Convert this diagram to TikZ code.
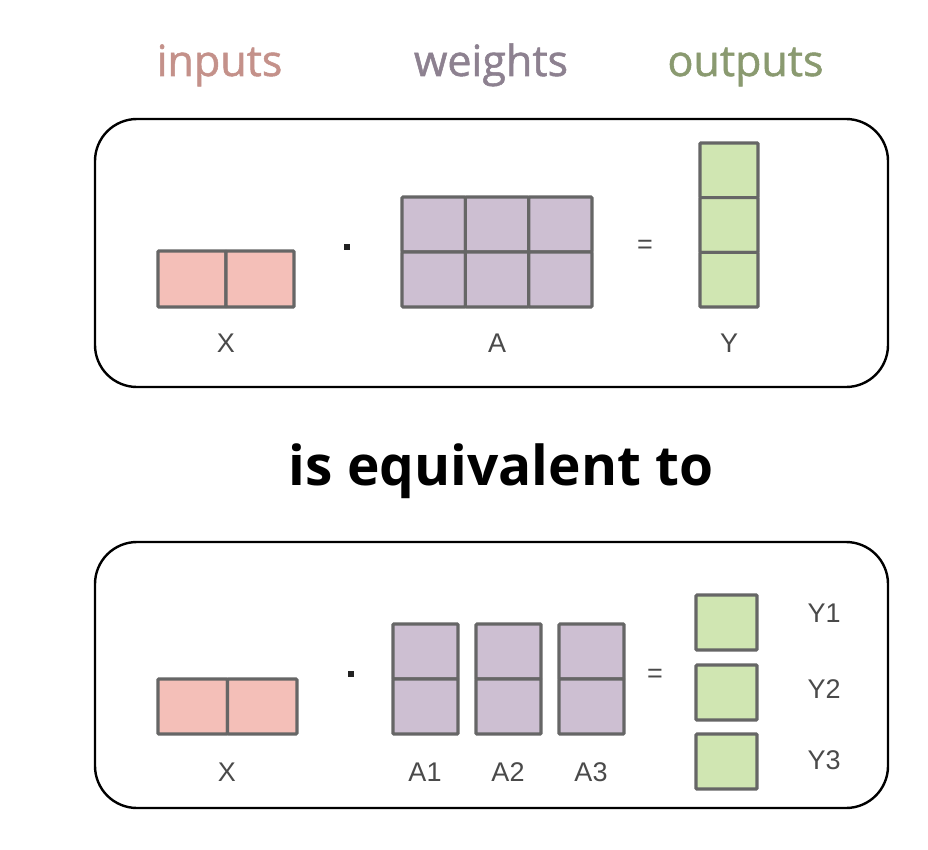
\documentclass[tikz,border=0pt]{standalone}
\usepackage{fontspec}
\setmainfont{Open Sans}
\newfontfamily\headfont[FakeBold=1.2]{Open Sans}
\newfontfamily\lblfont{Liberation Sans}
\begin{document}
\begin{tikzpicture}[x=1pt,y=-1pt,
  frame/.style={draw=black,line width=2.4pt,rounded corners=42pt},
  cell/.style={draw=cellline,line width=3.2pt,rounded corners=1pt,inner sep=0pt,outer sep=0pt,shape=rectangle},
  pinkc/.style={cell,fill=pinkfill},
  purpc/.style={cell,fill=purpfill},
  greenc/.style={cell,fill=greenfill},
  lbl/.style={font=\lblfont\fontsize{27}{27}\selectfont,text=lblgray,inner sep=0pt},
  head/.style={font=\headfont\fontsize{43}{44}\selectfont,inner sep=0pt,anchor=base},
  opdot/.style={fill=dotcol,minimum size=6pt,inner sep=0pt,shape=rectangle}
]
\definecolor{cellline}{HTML}{666666}
\definecolor{pinkfill}{HTML}{F4BFB8}
\definecolor{purpfill}{HTML}{CDBFD2}
\definecolor{greenfill}{HTML}{D0E6B2}
\definecolor{lblgray}{HTML}{4A4A4A}
\definecolor{dotcol}{HTML}{222222}
\definecolor{incol}{HTML}{C4918A}
\definecolor{wcol}{HTML}{8D8190}
\definecolor{outcol}{HTML}{8A9A70}
\useasboundingbox (0,0) rectangle (928,850);

% headings
\node[head,text=incol] (hin) at (219.5,76) {inputs};
\node[head,text=wcol] (hw) at (491,76) {weights};
\node[head,text=outcol] (hout) at (745.5,76) {outputs};

% frames
\draw[frame] (95,119) rectangle (888,387);
\draw[frame] (95,542) rectangle (888,808);

% middle text
\node[font=\bfseries\fontsize{55}{56}\selectfont,inner sep=0pt,anchor=base] (eq) at (501,485) {is equivalent to};

% ---- top row ----
\node[pinkc,minimum width=68pt,minimum height=56pt] (tx1) at (192,279) {};
\node[pinkc,minimum width=68pt,minimum height=56pt] (tx2) at (260,279) {};
\node[opdot] (tdot) at (347,247) {};
\foreach \c/\x in {1/433.7,2/497,3/560.3}{
  \node[purpc,minimum width=63.3pt,minimum height=55pt] (ta1\c) at (\x,224.5) {};
  \node[purpc,minimum width=63.3pt,minimum height=55pt] (ta2\c) at (\x,279.5) {};
}
\node[lbl] (teq) at (645,247) {=};
\node[greenc,minimum width=58pt,minimum height=54.7pt] (ty1) at (729,170.3) {};
\node[greenc,minimum width=58pt,minimum height=54.7pt] (ty2) at (729,225) {};
\node[greenc,minimum width=58pt,minimum height=54.7pt] (ty3) at (729,279.7) {};
\node[lbl] (tlx) at (226,343) {X};
\node[lbl] (tla) at (497,343) {A};
\node[lbl] (tly) at (729,343) {Y};

% ---- bottom row ----
\node[pinkc,minimum width=69.5pt,minimum height=55pt] (bx1) at (192.7,706.5) {};
\node[pinkc,minimum width=69.5pt,minimum height=55pt] (bx2) at (262.2,706.5) {};
\node[opdot] (bdot) at (351,674) {};
\foreach \c/\x in {1/425.5,2/508.5,3/591.5}{
  \node[purpc,minimum width=65pt,minimum height=55pt] (ba1\c) at (\x,651.5) {};
  \node[purpc,minimum width=65pt,minimum height=55pt] (ba2\c) at (\x,706.5) {};
}
\node[lbl] (beq) at (655,676) {=};
\node[greenc,minimum width=61pt,minimum height=55pt] (by1) at (726.5,622.5) {};
\node[greenc,minimum width=61pt,minimum height=55pt] (by2) at (726.5,692.5) {};
\node[greenc,minimum width=61pt,minimum height=55pt] (by3) at (726.5,761.5) {};
\node[lbl] (blx) at (227,772) {X};
\node[lbl] (bla1) at (425,772) {A1};
\node[lbl] (bla2) at (508,772) {A2};
\node[lbl] (bla3) at (591,772) {A3};
\node[lbl] (bly1) at (824,613) {Y1};
\node[lbl] (bly2) at (824,689) {Y2};
\node[lbl] (bly3) at (824,760) {Y3};
\end{tikzpicture}
\end{document}
